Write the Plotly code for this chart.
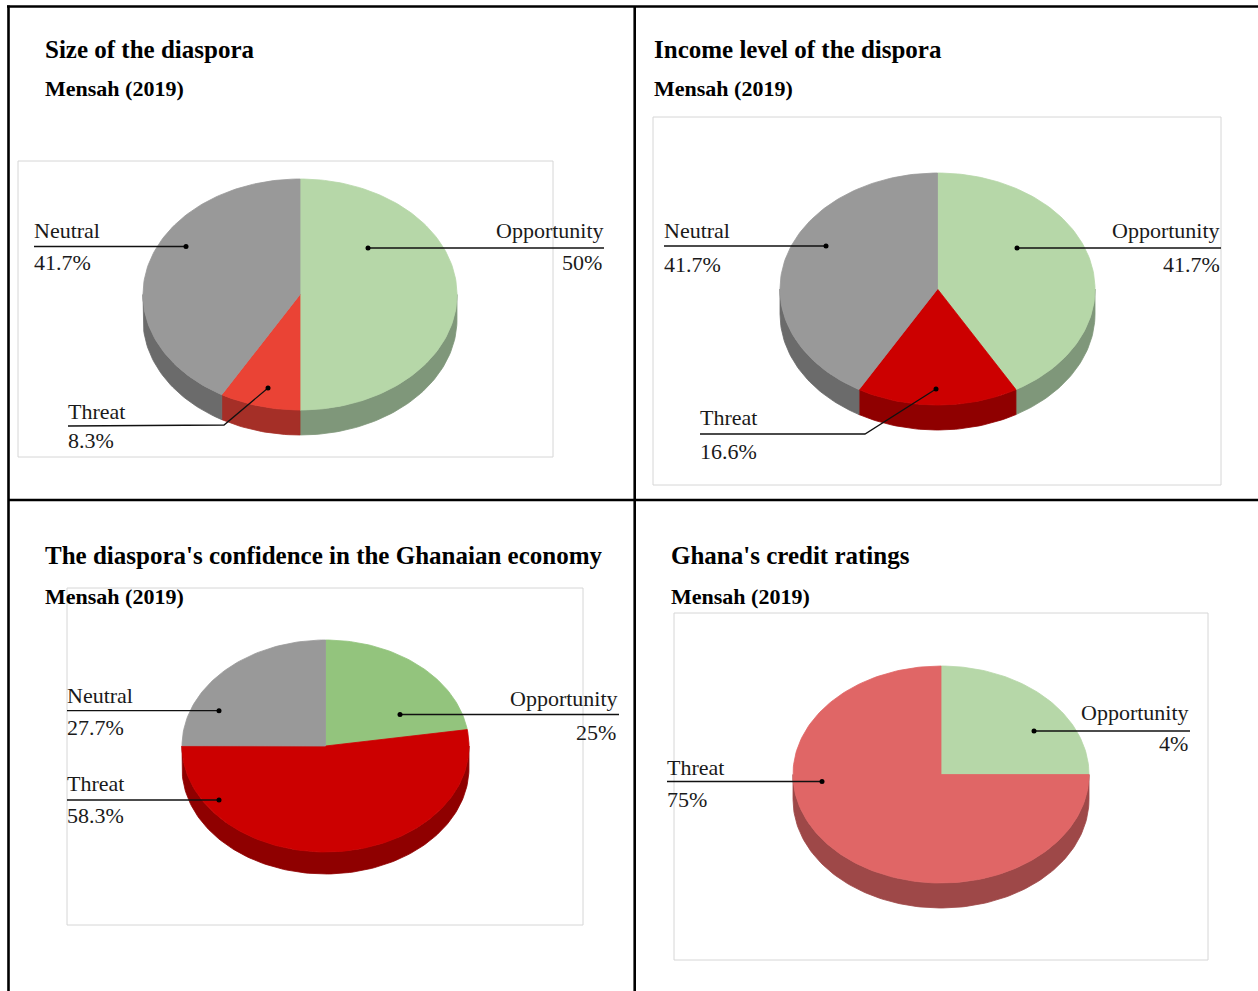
import numpy as np
import plotly.graph_objects as go

W, H = 1258, 991

# ---------------- data ----------------
categories = ["Opportunity", "Threat", "Neutral"]

size_values = [50, 8.3, 41.7]
size_labels = ["50%", "8.3%", "41.7%"]

income_values = [41.7, 16.6, 41.7]
income_labels = ["41.7%", "16.6%", "41.7%"]

confidence_values = [25, 58.3, 27.7]
confidence_labels = ["25%", "58.3%", "27.7%"]

credit_categories = ["Opportunity", "Threat"]
credit_values = [25, 75]          # slice sizes as drawn
credit_labels = ["4%", "75%"]     # label text as printed

titles = [
    "Size of the diaspora",
    "Income level of the dispora",
    "The diaspora's confidence in the Ghanaian economy",
    "Ghana's credit ratings",
]
subtitle = "Mensah (2019)"

# ---------------- styles / layout ----------------
GREEN = "#b6d7a8"
GREEN_SIDE = "#7f977a"
GRAY = "#999999"
GRAY_SIDE = "#6b6b6b"
PAD = 2  # annotation inner padding compensation

panels = [
    dict(cats=categories, vals=size_values, labs=size_labels, title=titles[0],
         tx=45, ty=49, sy=88, box=(18, 161, 553, 457),
         cx=300, cy=294.5, rx=157, ry=115.5, depth=25,
         colors=[GREEN, "#ea4335", GRAY], sides=[GREEN_SIDE, "#a52f27", GRAY_SIDE],
         lab=[
             dict(x=604, ny=230, vy=262, align="right", vx=602, pts=[(604, 248), (368, 248)]),
             dict(x=68, ny=411, vy=440, align="left", vx=68, pts=[(68, 426), (224, 425), (268, 388)]),
             dict(x=34, ny=230, vy=262, align="left", vx=34, pts=[(34, 246.5), (186, 246.5)]),
         ]),
    dict(cats=categories, vals=income_values, labs=income_labels, title=titles[1],
         tx=654, ty=49, sy=88, box=(653, 117, 1221, 485),
         cx=937.5, cy=289, rx=157.5, ry=116, depth=25,
         colors=[GREEN, "#cc0000", GRAY], sides=[GREEN_SIDE, "#8f0000", GRAY_SIDE],
         lab=[
             dict(x=1220, ny=230, vy=264, align="right", vx=1220, pts=[(1221, 248), (1017, 248)]),
             dict(x=700, ny=417, vy=451, align="left", vx=700, pts=[(700, 434), (865, 434), (936, 389)]),
             dict(x=664, ny=230, vy=264, align="left", vx=664, pts=[(664, 246), (826, 246)]),
         ]),
    dict(cats=categories, vals=confidence_values, labs=confidence_labels, title=titles[2],
         tx=45, ty=555, sy=596, box=(67, 588, 583, 925),
         cx=325.5, cy=746, rx=143.5, ry=106, depth=22,
         colors=["#93c47d", "#cc0000", GRAY], sides=["#6b8f5b", "#8f0000", GRAY_SIDE],
         lab=[
             dict(x=618, ny=698, vy=732, align="right", vx=616, pts=[(619, 714.5), (400, 714.5)]),
             dict(x=67, ny=783, vy=815, align="left", vx=67, pts=[(67, 800), (219, 800)]),
             dict(x=67, ny=695, vy=727, align="left", vx=67, pts=[(67, 710.7), (219, 710.7)]),
         ]),
    dict(cats=credit_categories, vals=credit_values, labs=credit_labels, title=titles[3],
         tx=671, ty=555, sy=596, box=(674, 613, 1208, 960),
         cx=941, cy=774.5, rx=148, ry=108.5, depth=25,
         colors=[GREEN, "#e06666"], sides=[GREEN_SIDE, "#9e4848"],
         lab=[
             dict(x=1189, ny=712, vy=743, align="right", vx=1188, pts=[(1190, 731), (1034, 731)]),
             dict(x=667, ny=767, vy=799, align="left", vx=667, pts=[(667, 781.5), (822, 781.5)]),
         ]),
]

SERIF = "Liberation Serif, Times New Roman, serif"

fig = go.Figure()
shapes = []
annotations = []


def arc(cx, cy, rx, ry, a0, a1, n=120):
    t = np.linspace(a0, a1, max(3, int(n * abs(a1 - a0) / np.pi) + 3))
    return cx + rx * np.sin(t), cy - ry * np.cos(t)


for p in panels:
    # chart box
    x0, y0, x1, y1 = p["box"]
    shapes.append(dict(type="rect", xref="x", yref="y", x0=x0, y0=y0, x1=x1, y1=y1,
                       line=dict(color="#d6d6d6", width=1), layer="below"))
    vals = np.array(p["vals"], dtype=float)
    frac = vals / vals.sum()
    ends = np.cumsum(frac) * 2 * np.pi
    starts = ends - frac * 2 * np.pi
    cx, cy, rx, ry, d = p["cx"], p["cy"], p["rx"], p["ry"], p["depth"]
    # side walls (front half only: angles pi/2 .. 3pi/2, clockwise from top)
    for a0, a1, col in zip(starts, ends, p["sides"]):
        lo, hi = max(a0, np.pi / 2), min(a1, 3 * np.pi / 2)
        if hi <= lo:
            continue
        xt, yt = arc(cx, cy, rx, ry, lo, hi)
        xs = np.concatenate([xt, xt[::-1], xt[:1]])
        ys = np.concatenate([yt, yt[::-1] + d, yt[:1]])
        fig.add_trace(go.Scatter(x=xs, y=ys, fill="toself", fillcolor=col, mode="lines",
                                 line=dict(color=col, width=0.8), hoverinfo="skip"))
    # top faces
    for a0, a1, col, name, v in zip(starts, ends, p["colors"], p["cats"], p["vals"]):
        xt, yt = arc(cx, cy, rx, ry, a0, a1)
        xs = np.concatenate([[cx], xt, [cx]])
        ys = np.concatenate([[cy], yt, [cy]])
        fig.add_trace(go.Scatter(x=xs, y=ys, fill="toself", fillcolor=col, mode="lines",
                                 line=dict(color=col, width=0.8), name=name,
                                 hovertemplate=f"{name}: {v}<extra></extra>"))
    # labels with leader lines
    for name, txt, L in zip(p["cats"], p["labs"], p["lab"]):
        px = [pt[0] for pt in L["pts"]]
        py = [pt[1] for pt in L["pts"]]
        fig.add_trace(go.Scatter(x=px, y=py, mode="lines", line=dict(color="#111111", width=1.3),
                                 hoverinfo="skip"))
        fig.add_trace(go.Scatter(x=[px[-1]], y=[py[-1]], mode="markers",
                                 marker=dict(color="#000000", size=5), hoverinfo="skip"))
        right = L["align"] == "right"
        xanchor = "right" if right else "left"
        off = PAD if right else -PAD
        annotations.append(dict(x=L["x"] + off, y=L["ny"], text=name, showarrow=False, xref="x", yref="y",
                                xanchor=xanchor, yanchor="middle",
                                font=dict(family=SERIF, size=22, color="#1a1a1a")))
        annotations.append(dict(x=L["vx"] + off, y=L["vy"], text=txt, showarrow=False, xref="x", yref="y",
                                xanchor=xanchor, yanchor="middle",
                                font=dict(family=SERIF, size=22, color="#1a1a1a")))
    # titles
    annotations.append(dict(x=p["tx"] - PAD, y=p["ty"], text="<b>" + p["title"] + "</b>", showarrow=False,
                            xref="x", yref="y", xanchor="left", yanchor="middle",
                            font=dict(family=SERIF, size=25, color="#000000")))
    annotations.append(dict(x=p["tx"] - PAD, y=p["sy"], text="<b>" + subtitle + "</b>", showarrow=False,
                            xref="x", yref="y", xanchor="left", yanchor="middle",
                            font=dict(family=SERIF, size=22, color="#000000")))

# outer frame and dividers
frame = dict(color="#000000", width=2.6)
shapes += [
    dict(type="line", xref="x", yref="y", x0=8.5, y0=5.5, x1=8.5, y1=H, line=frame),
    dict(type="line", xref="x", yref="y", x0=7, y0=6.5, x1=W, y1=6.5, line=frame),
    dict(type="line", xref="x", yref="y", x0=634.7, y0=6, x1=634.7, y1=H, line=frame),
    dict(type="line", xref="x", yref="y", x0=8, y0=500, x1=W, y1=500, line=frame),
]

fig.update_layout(
    width=W, height=H, margin=dict(l=0, r=0, t=0, b=0),
    paper_bgcolor="white", plot_bgcolor="white", showlegend=False,
    xaxis=dict(range=[0, W], visible=False, fixedrange=True),
    yaxis=dict(range=[H, 0], visible=False, fixedrange=True),
    shapes=shapes, annotations=annotations,
)

fig.write_html("out.html")
